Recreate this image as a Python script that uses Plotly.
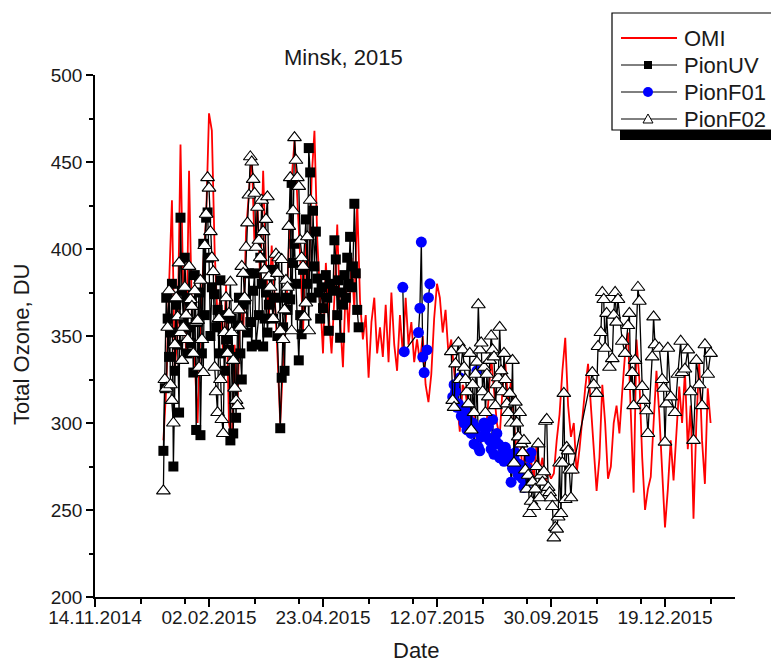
import pandas as pd
import plotly.graph_objects as go

# ---- data -----------------------------------------------------------------
START = pd.Timestamp("2015-01-01")

# OMI overpass total ozone (DU), one value every second day from 1 Jan 2015
omi_ozone = [
    290, 320, 380, 428, 330, 352, 460, 372, 340, 445, 362, 335, 300, 355, 392, 418,
    478, 468, 398, 360, 372, 338, 380, 300, 290, 345, 310, 372, 350, 410,
    432, 455, 400, 425, 380, 445, 392, 360, 402, 375, 340, 300, 335, 360, 400,
    440, 462, 430, 395, 352, 410, 380, 440, 468, 405, 372, 340, 392, 362, 340,
    372, 414, 360, 332, 380, 352, 395, 365, 428, 370, 348, 362, 326, 358, 372, 340,
    355, 338, 368, 335, 375, 345, 330, 362, 340, 372, 345, 358, 335, 348, 335,
    350, 322, 312, 328, 360, 380, 372, 352, 365, 340, 348, 330, 310, 295, 322,
    318, 305, 296, 310, 290, 282, 300, 292, 312, 338, 318, 300, 292, 320, 334, 310,
    325, 300, 283, 295, 272, 285, 266, 278, 268, 290, 272, 280, 265, 272, 268,
    271, 290, 305, 330, 349, 310, 292, 300, 271, 285, 305, 320, 334, 310, 290,
    261, 280, 322, 300, 268, 275, 300, 310, 294, 318, 340, 352, 305, 260, 348,
    325, 280, 250, 262, 269, 300, 330, 305, 270, 240, 262, 290, 267, 295, 321, 300,
    330, 285, 310, 245, 300, 335, 290, 265, 320, 300,
]

# (day of 2015, DU) pairs for the ground instruments
pionuv = [
    (0, 284), (1, 320), (2, 372), (3, 360), (4, 338), (5, 352), (6, 380), (7, 275),
    (8, 330), (9, 368), (10, 345), (11, 306), (12, 418), (13, 376), (14, 360),
    (15, 395), (16, 372), (17, 340), (18, 355), (19, 346), (20, 370), (21, 329),
    (22, 385), (23, 296), (24, 358), (25, 375), (26, 293), (27, 340), (28, 403),
    (29, 362), (30, 418), (31, 421), (32, 395), (33, 350), (34, 378), (36, 374),
    (37, 355), (38, 365), (39, 340), (40, 382), (41, 362), (43, 330), (44, 348),
    (46, 342), (47, 290), (48, 360), (49, 294), (50, 338), (51, 303), (52, 356),
    (53, 372), (54, 340), (55, 325), (56, 368), (58, 371), (59, 352), (60, 386),
    (61, 358), (62, 344), (63, 376), (64, 386), (65, 345), (67, 362), (68, 395),
    (69, 380), (70, 344), (71, 360), (72, 375), (73, 352), (74, 368), (76, 388),
    (77, 360), (78, 372), (80, 350), (82, 297), (83, 326), (84, 355), (85, 330),
    (86, 372), (87, 365), (89, 371), (90, 438), (91, 392), (92, 403), (93, 380),
    (95, 336), (96, 362), (97, 351), (98, 388), (100, 417), (101, 380), (102, 458),
    (103, 444), (104, 372), (105, 422), (106, 390), (107, 410), (108, 383),
    (109, 375), (110, 360), (111, 378), (112, 366), (114, 385), (115, 372),
    (116, 353), (117, 380), (119, 376), (120, 405), (121, 394), (122, 362),
    (123, 382), (124, 349), (125, 375), (126, 368), (127, 385), (128, 372),
    (129, 395), (130, 380), (131, 407), (132, 378), (133, 390), (134, 426),
    (135, 386), (136, 365), (137, 355),
]

pionf01_june = [
    (168, 378), (169, 341), (179, 352), (180, 366), (181, 404), (182, 338),
    (183, 329), (185, 342), (186, 372), (187, 380),
]
pionf01_summer = [
    (203, 315), (204, 322), (205, 318), (206, 309), (207, 311), (208, 326),
    (209, 304), (210, 306), (211, 300), (212, 308), (213, 296), (214, 302),
    (215, 298), (216, 294), (217, 300), (218, 288), (219, 296), (220, 330),
    (221, 286), (222, 284), (223, 292), (224, 298), (225, 300), (226, 296),
    (227, 292), (228, 298), (229, 290), (230, 285), (231, 302), (232, 282),
    (233, 290), (234, 294), (235, 288), (236, 280), (237, 281), (238, 286),
    (239, 278), (240, 286), (241, 283), (242, 279), (243, 282), (244, 266),
    (245, 274), (246, 280), (247, 283), (248, 277), (249, 270), (250, 276),
    (251, 272), (252, 268), (253, 263), (254, 264), (255, 274), (256, 269),
    (257, 280), (258, 283),
]

pionf02_winter = [
    (0, 261), (1, 325), (2, 320), (3, 355), (4, 376), (5, 322), (6, 313), (7, 300),
    (8, 345), (9, 372), (10, 361), (11, 392), (12, 352), (13, 336), (14, 355),
    (15, 378), (16, 362), (17, 348), (18, 390), (19, 371), (20, 367), (21, 340),
    (22, 376), (23, 358), (24, 359), (25, 332), (26, 382), (27, 348), (28, 329),
    (29, 402), (30, 420), (31, 441), (32, 435), (33, 410), (34, 395), (35, 387),
    (36, 332), (37, 318), (38, 306), (39, 360), (40, 325), (41, 302), (42, 294),
    (43, 352), (44, 372), (45, 340), (46, 363), (47, 381), (48, 352), (49, 336),
    (50, 320), (51, 313), (52, 310), (53, 365), (54, 355), (55, 390), (56, 386),
    (57, 372), (58, 401), (59, 415), (60, 431), (61, 453), (62, 450), (63, 440),
    (64, 432), (65, 401), (66, 424), (67, 405), (68, 395), (69, 428), (70, 410),
    (71, 388), (72, 417), (73, 430), (74, 384), (75, 378), (77, 360), (79, 397),
    (80, 386), (81, 395), (82, 353), (83, 394), (84, 348), (85, 365), (86, 382),
    (87, 378), (88, 413), (89, 441), (90, 353), (91, 422), (92, 464), (93, 451),
    (94, 441), (95, 436), (96, 405), (97, 395), (98, 390), (99, 361), (100, 369),
    (101, 407), (102, 353), (103, 428),
]
pionf02_autumn = [
    (202, 341), (203, 313), (204, 309), (205, 334), (207, 346), (208, 325),
    (210, 342), (211, 332), (212, 325), (213, 318), (214, 311), (215, 340),
    (216, 296), (217, 322), (218, 306), (219, 328), (220, 335), (221, 368),
    (222, 342), (223, 346), (224, 318), (225, 332), (226, 306), (227, 328),
    (228, 315), (229, 336), (230, 350), (231, 342), (232, 338), (233, 310),
    (234, 322), (235, 326), (236, 355), (237, 330), (238, 318), (239, 340),
    (240, 325), (241, 311), (242, 306), (243, 317), (244, 300), (245, 336),
    (246, 277), (247, 312), (248, 300), (249, 292), (250, 306), (251, 288),
    (252, 283), (253, 290), (254, 273), (255, 262), (256, 270), (257, 248),
    (258, 255), (259, 266), (260, 252), (261, 262), (262, 275), (263, 288),
    (264, 257), (265, 270), (266, 266), (267, 272), (268, 301), (269, 302),
    (270, 263), (271, 260), (272, 257), (273, 252), (274, 234), (275, 240),
    (276, 239), (277, 246), (278, 277), (279, 248), (280, 277), (281, 317),
    (282, 256), (283, 286), (284, 284), (285, 273), (286, 257), (287, 273),
    (301, 329), (302, 322), (304, 317), (305, 344), (307, 352), (308, 375),
    (309, 371), (310, 343), (311, 363), (313, 332), (315, 337), (316, 362),
    (317, 375), (318, 358), (319, 371), (322, 347), (324, 340), (326, 356),
    (327, 363), (328, 321), (329, 329), (330, 310), (331, 336), (333, 378),
    (334, 370), (336, 321), (337, 313), (339, 307), (340, 294), (343, 338),
    (344, 361), (345, 345), (348, 343), (350, 325), (351, 320), (352, 289),
    (353, 311), (354, 343), (356, 315), (359, 306), (361, 328), (363, 347),
    (364, 329), (366, 331), (368, 342), (370, 318), (372, 290), (374, 336),
    (376, 322), (378, 310), (380, 345), (382, 328), (384, 340),
]

tick_dates = ["2014-11-14", "2015-02-02", "2015-04-23", "2015-07-12", "2015-09-30", "2015-12-19"]
y_ticks = [200, 250, 300, 350, 400, 450, 500]


# ---- helpers --------------------------------------------------------------
def to_xy(*segments):
    """Turn (day, value) segments into dates/values, with a gap between segments."""
    xs, ys = [], []
    for i, seg in enumerate(segments):
        if i:
            gap_day = (segments[i - 1][-1][0] + seg[0][0]) / 2
            xs.append(START + pd.Timedelta(days=gap_day))
            ys.append(None)
        for d, v in seg:
            xs.append(START + pd.Timedelta(days=d))
            ys.append(v)
    return xs, ys


FONT = "Liberation Sans, Arial, sans-serif"
INK = "#1a1a1a"

# plot area in figure pixels
L, R, T, B = 95, 36, 75, 67
W, H = 771, 664
PW, PH = W - L - R, H - T - B


def fx(px):
    return (px - L) / PW


def fy(py):
    return (H - B - py) / PH


x_start = pd.Timestamp(tick_dates[0])
x_end = x_start + pd.Timedelta(days=PW / (114.0 / 80.0))

fig = go.Figure()

omi_dates = pd.date_range(START, periods=len(omi_ozone), freq="2D")
fig.add_trace(go.Scatter(
    x=omi_dates, y=omi_ozone, mode="lines", name="OMI",
    line=dict(color="#ff0000", width=1.8),
))

x, y = to_xy(pionuv)
fig.add_trace(go.Scatter(
    x=x, y=y, mode="lines+markers", name="PionUV",
    line=dict(color="#000000", width=1.3),
    marker=dict(symbol="square", size=10, color="#000000"),
))

x, y = to_xy(pionf01_june, pionf01_summer)
fig.add_trace(go.Scatter(
    x=x, y=y, mode="lines+markers", name="PionF01",
    line=dict(color="#000000", width=1.3),
    marker=dict(symbol="circle", size=11, color="#0000ff", line=dict(width=0)),
))

x, y = to_xy(pionf02_winter, pionf02_autumn)
fig.add_trace(go.Scatter(
    x=x, y=y, mode="lines+markers", name="PionF02",
    line=dict(color="#000000", width=1.3),
    marker=dict(symbol="triangle-up", size=12, color="#ffffff",
                line=dict(color="#000000", width=1.1)),
))

# minor ticks of the date axis
minor_dates = []
for t in tick_dates:
    t0 = pd.Timestamp(t)
    for off in (32, 63):
        m = t0 + pd.Timedelta(days=off)
        if m < x_end:
            minor_dates.append(m)

fig.update_layout(
    width=W, height=H,
    margin=dict(l=L, r=R, t=T, b=B),
    paper_bgcolor="white", plot_bgcolor="white",
    showlegend=False,
    font=dict(family=FONT, color=INK),
    xaxis=dict(
        type="date", range=[x_start, x_end],
        tickvals=[pd.Timestamp(t) for t in tick_dates],
        ticktext=[pd.Timestamp(t).strftime("%d.%m.%Y") for t in tick_dates],
        ticks="outside", ticklen=8, tickwidth=1.5, tickcolor="#000",
        ticklabelstandoff=-6,
        minor=dict(tickvals=minor_dates, ticks="outside", ticklen=5,
                   tickwidth=1.5, tickcolor="#000"),
        showline=True, linecolor="#000", linewidth=1.5,
        showgrid=False, zeroline=False,
        tickfont=dict(size=19, family=FONT, color=INK),
    ),
    yaxis=dict(
        range=[200, 500], tickvals=y_ticks,
        ticks="outside", ticklen=7, tickwidth=1.5, tickcolor="#000",
        minor=dict(dtick=25, ticks="outside", ticklen=4, tickwidth=1.5,
                   tickcolor="#000"),
        showline=True, linecolor="#000", linewidth=1.5,
        showgrid=False, zeroline=False,
        tickfont=dict(size=19, family=FONT, color=INK),
    ),
)

annotations = [
    dict(text="Minsk, 2015", x=fx(343), y=fy(58), xref="paper", yref="paper",
         showarrow=False, xanchor="center", yanchor="middle",
         font=dict(size=22, family=FONT, color=INK)),
    dict(text="Total Ozone, DU", x=fx(22), y=fy(345), xref="paper", yref="paper",
         showarrow=False, textangle=-90, xanchor="center", yanchor="middle",
         font=dict(size=22, family=FONT, color=INK)),
    dict(text="Date", x=fx(416), y=fy(650), xref="paper", yref="paper",
         showarrow=False, xanchor="center", yanchor="middle",
         font=dict(size=22, family=FONT, color=INK)),
]

# legend box with drop shadow
shapes = [
    dict(type="rect", xref="paper", yref="paper", layer="above",
         x0=fx(620), x1=fx(800), y0=fy(140), y1=fy(128),
         fillcolor="#000", line=dict(width=0)),
    dict(type="rect", xref="paper", yref="paper", layer="above",
         x0=fx(612), x1=fx(790), y0=fy(130), y1=fy(13),
         fillcolor="#fff", line=dict(color="#000", width=1.2)),
]

legend_rows = [("OMI", 38), ("PionUV", 65), ("PionF01", 92), ("PionF02", 119)]
for name, yy in legend_rows:
    colour = "#ff0000" if name == "OMI" else "#000"
    width = 2 if name == "OMI" else 1
    shapes.append(dict(type="line", xref="paper", yref="paper", layer="above",
                       x0=fx(621), x1=fx(677), y0=fy(yy), y1=fy(yy),
                       line=dict(color=colour, width=width)))
    annotations.append(dict(text=name, x=fx(682), y=fy(yy), xref="paper", yref="paper",
                            showarrow=False, xanchor="left", yanchor="middle",
                            font=dict(size=22, family=FONT, color=INK)))

cx = 648
# square
shapes.append(dict(type="rect", xref="paper", yref="paper", layer="above",
                   x0=fx(cx - 4), x1=fx(cx + 4), y0=fy(65 + 4), y1=fy(65 - 4),
                   fillcolor="#000", line=dict(width=0)))
# circle
shapes.append(dict(type="circle", xref="paper", yref="paper", layer="above",
                   x0=fx(cx - 5), x1=fx(cx + 5), y0=fy(92 + 5), y1=fy(92 - 5),
                   fillcolor="#0000ff", line=dict(width=0)))
# open triangle
tri = "M{:.5f},{:.5f} L{:.5f},{:.5f} L{:.5f},{:.5f} Z".format(
    fx(cx - 5), fy(119 + 4), fx(cx + 5), fy(119 + 4), fx(cx), fy(119 - 5))
shapes.append(dict(type="path", path=tri, xref="paper", yref="paper", layer="above",
                   fillcolor="#fff", line=dict(color="#000", width=1)))

fig.update_layout(annotations=annotations, shapes=shapes)

fig.write_html("out.html")
